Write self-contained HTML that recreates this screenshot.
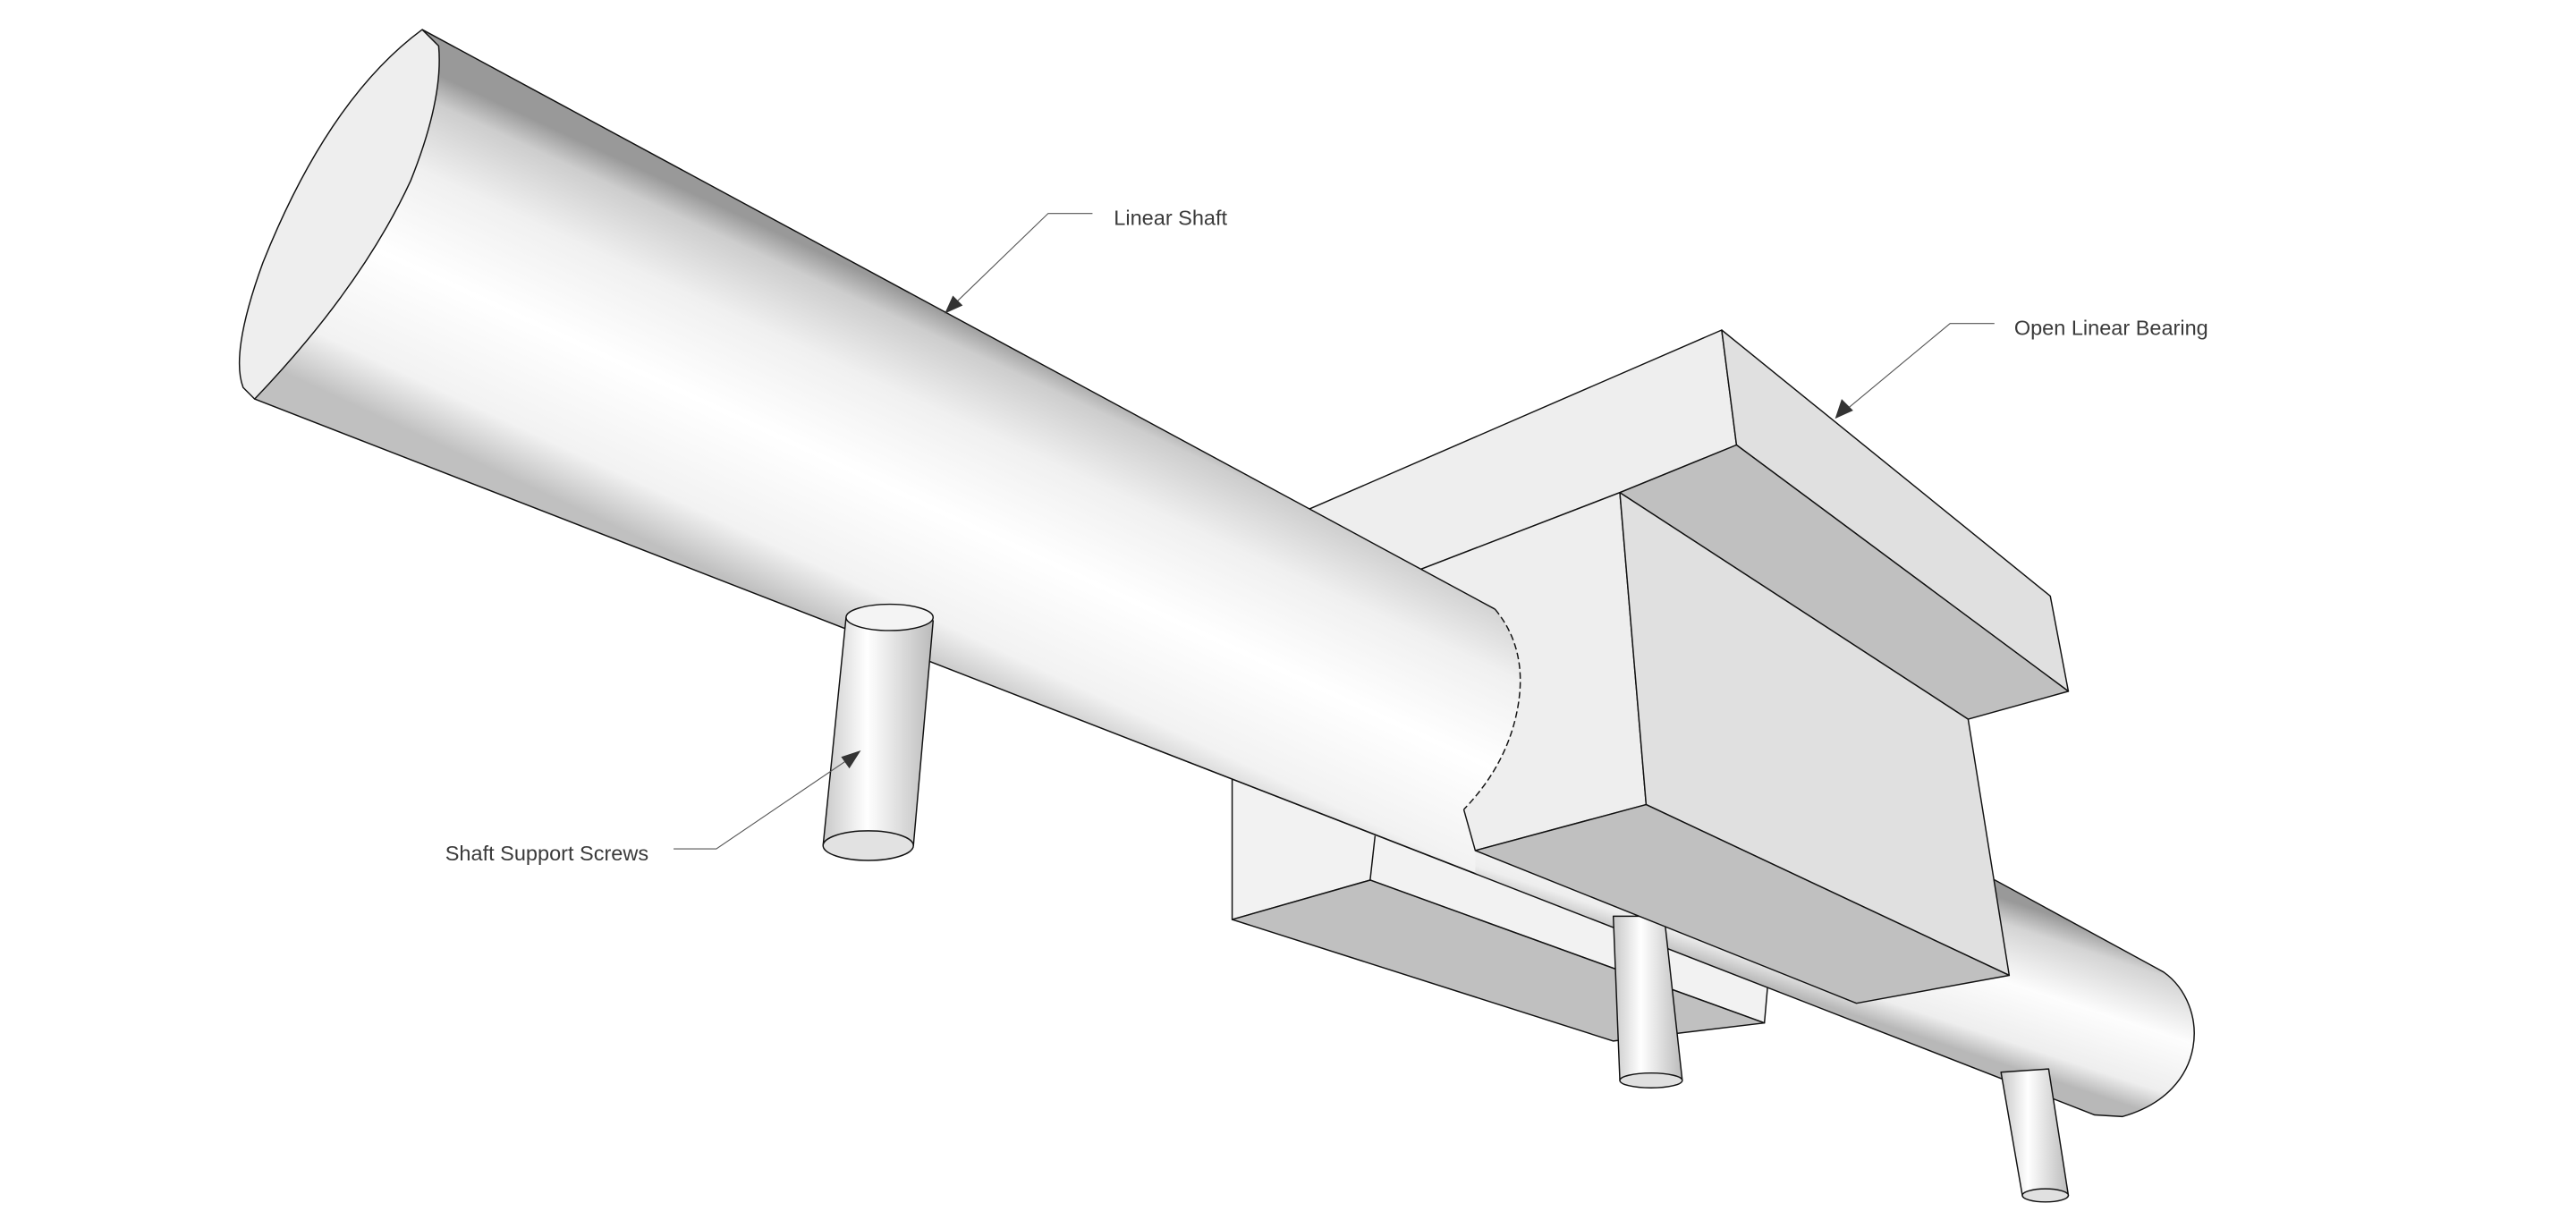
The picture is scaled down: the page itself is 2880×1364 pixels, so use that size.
<!DOCTYPE html>
<html><head><meta charset="utf-8"><style>
html,body{margin:0;padding:0;background:#fff;}
svg{display:block;}
text{font-family:"Liberation Sans",sans-serif;font-size:12.8px;fill:#3a3a3a;}
</style></head><body>
<svg width="2880" height="1364" viewBox="0 0 1568 743" preserveAspectRatio="none" xmlns="http://www.w3.org/2000/svg">
<defs>
<linearGradient id="sg" gradientUnits="userSpaceOnUse" x1="560" y1="182" x2="474" y2="367">
<stop offset="0" stop-color="#999"/><stop offset="0.08" stop-color="#cdcdcd"/><stop offset="0.28" stop-color="#f0f0f0"/><stop offset="0.55" stop-color="#ffffff"/><stop offset="0.85" stop-color="#f2f2f2"/><stop offset="1" stop-color="#c0c0c0"/>
</linearGradient>
<linearGradient id="sg2" gradientUnits="userSpaceOnUse" x1="1255" y1="559" x2="1225" y2="650">
<stop offset="0" stop-color="#999"/><stop offset="0.15" stop-color="#d4d4d4"/><stop offset="0.5" stop-color="#fdfdfd"/><stop offset="0.85" stop-color="#eee"/><stop offset="1" stop-color="#b8b8b8"/>
</linearGradient>
<linearGradient id="scr" x1="0" y1="0" x2="1" y2="0">
<stop offset="0" stop-color="#c8c8c8"/><stop offset="0.4" stop-color="#fff"/><stop offset="1" stop-color="#bbb"/>
</linearGradient>
</defs>
<g stroke="#111" stroke-width="0.8" stroke-linejoin="round">
<polygon points="750,474 900,530 1076,600 1074,623 834,536 750,560" fill="#f2f2f2"/>
<line x1="837" y1="509" x2="834" y2="536"/>
<polygon points="750,560 834,536 1074,623 982,634" fill="#c0c0c0"/>
<path d="M800,310 L1317,592 C1345,612 1345,665 1292,680 L1275,679 L700,455 Z" fill="url(#sg2)"/>
<path d="M982,558 L986,658 L1024,658 L1013,558 Z" fill="url(#scr)"/>
<ellipse cx="1005" cy="658" rx="19" ry="4.5" fill="#e0e0e0"/>
<polygon points="797,310 1048,201 1057,271 986,300 864,347" fill="#eeeeee"/>
<polygon points="1048,201 1248,363 1259,421 1057,271" fill="#e0e0e0"/>
<polygon points="1057,271 1259,421 1198,438 986,300" fill="#c0c0c0"/>
<polygon points="864,347 986,300 1002,490 898,518 880,485" fill="#eeeeee"/>
<path d="M257,18 L910,371 Q930,395 924,430 Q918,465 891,493 L898,518 L898,532 L155,243 Z" fill="url(#sg)" stroke="none"/>
<path d="M257,18 L910,371 M155,243 L898,532" fill="none"/>
<path d="M910,371 Q930,395 924,430 Q918,465 891,493" fill="none" stroke-dasharray="4,2"/>
<path d="M257,18 Q200,60 160,160 Q140,215 148,236 L155,243 Q220,175 250,110 Q270,60 267,28 Z" fill="#eeeeee"/>
<polygon points="986,300 1198,438 1223,594 1002,490" fill="#e0e0e0"/>
<polygon points="1002,490 1223,594 1130,611 898,518" fill="#c0c0c0"/>
<line x1="891" y1="493" x2="898" y2="518"/>
<path d="M1218,653 L1231,728 L1259,728 L1247,651 Z" fill="url(#scr)"/>
<ellipse cx="1245" cy="728" rx="14" ry="4" fill="#e0e0e0"/>
<path d="M515,376 L501,515 L556,515 L568,378 Z" fill="url(#scr)"/>
<ellipse cx="541.5" cy="376" rx="26.5" ry="8" fill="#f4f4f4"/>
<ellipse cx="528.5" cy="515" rx="27.5" ry="9" fill="#e2e2e2"/>
</g>
<g stroke="#555" stroke-width="0.6" fill="none">
<polyline points="665,130 638,130 579,187"/>
<polyline points="1214,197 1187,197 1122,251"/>
<polyline points="410,517 436,517 520,460"/>
</g>
<g fill="#333">
<polygon points="575,191 580,180 586,186"/>
<polygon points="1117,255 1121,243 1128,250"/>
<polygon points="524,457 512,461 517,468"/>
</g>
<text x="678" y="137">Linear Shaft</text>
<text x="1226" y="204">Open Linear Bearing</text>
<text x="271" y="524">Shaft Support Screws</text>
</svg>
</body></html>
